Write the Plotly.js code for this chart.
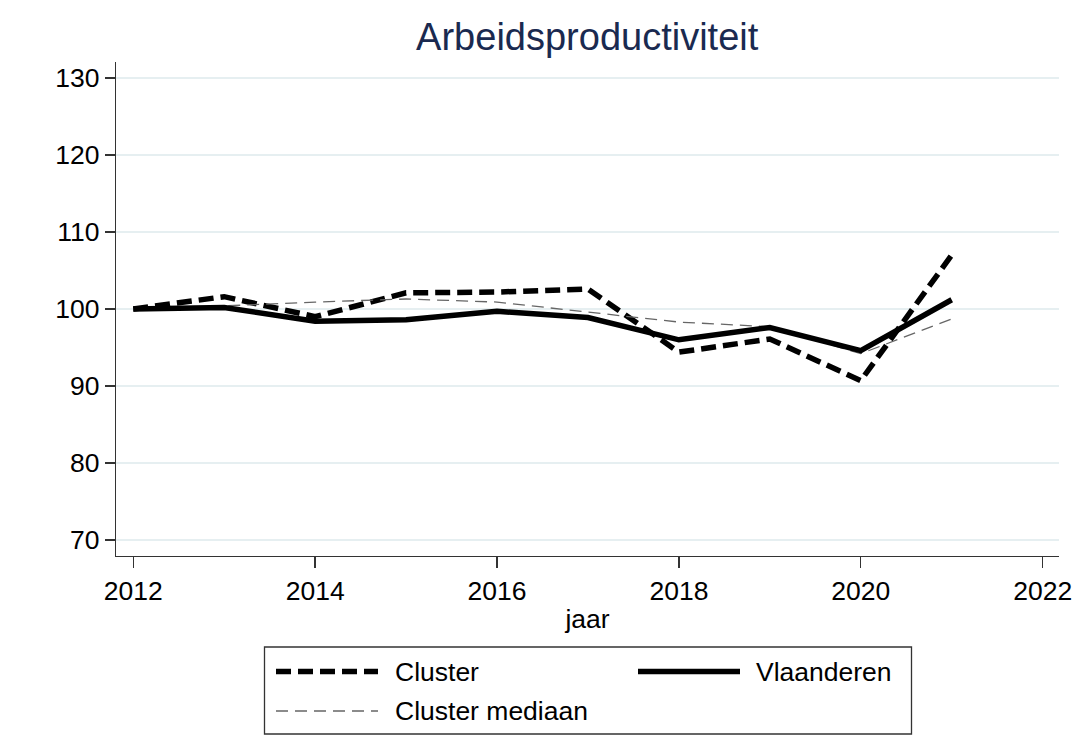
<!DOCTYPE html>
<html>
<head>
<meta charset="utf-8">
<script src="https://cdn.plot.ly/plotly-3.0.1.min.js"></script>
<style>html,body{margin:0;padding:0;background:#fff;}#chart{width:1084px;height:736px;}</style>
</head>
<body>
<div id="chart"></div>
<script>
// ---- data ----
const years = [2012, 2013, 2014, 2015, 2016, 2017, 2018, 2019, 2020, 2021];
const cluster = [100, 101.6, 99.0, 102.1, 102.2, 102.6, 94.4, 96.1, 90.7, 107.0];
const vlaanderen = [100, 100.2, 98.4, 98.6, 99.7, 98.9, 96.0, 97.6, 94.6, 101.2];
const clusterMediaan = [100, 100.4, 100.9, 101.3, 100.9, 99.6, 98.3, 97.7, 94.2, 98.7];
const xTicks = [2012, 2014, 2016, 2018, 2020, 2022];
const yTicks = [70, 80, 90, 100, 110, 120, 130];
const seriesNames = ['Cluster', 'Vlaanderen', 'Cluster mediaan'];
const chartTitle = 'Arbeidsproductiviteit';
const xTitle = 'jaar';

// ---- layout geometry ----
const W = 1084, H = 736;
const M = {l: 116, r: 25, t: 62, b: 180};
const plotW = W - M.l - M.r, plotH = H - M.t - M.b;
const px = x => (x - M.l) / plotW;          // pixel -> paper x
const py = y => (H - M.b - y) / plotH;      // pixel -> paper y
const FONT = 'Liberation Sans, Arial, sans-serif';
const FS = 26.5;

const styles = {
  'Cluster': {color: '#000', width: 5.5, dash: '15px,7px'},
  'Vlaanderen': {color: '#000', width: 5.5, dash: 'solid'},
  'Cluster mediaan': {color: '#666', width: 1.3, dash: '12px,7px'}
};

const traces = [
  {x: years, y: cluster, name: seriesNames[0]},
  {x: years, y: clusterMediaan, name: seriesNames[2]},
  {x: years, y: vlaanderen, name: seriesNames[1]}
].map(t => Object.assign(t, {type: 'scatter', mode: 'lines', line: styles[t.name], hoverinfo: 'skip'}));

// custom legend (box, keys, labels)
const shapes = [
  {type: 'rect', xref: 'paper', yref: 'paper', x0: px(264.5), x1: px(911.5), y0: py(734), y1: py(647),
   line: {color: '#333', width: 1.3}, fillcolor: 'rgba(0,0,0,0)'}
];
const annotations = [];
const legendItems = [
  {name: seriesNames[0], kx0: 276, kx1: 378, ky: 671.5, tx: 393},
  {name: seriesNames[1], kx0: 638, kx1: 740, ky: 671.5, tx: 754},
  {name: seriesNames[2], kx0: 276, kx1: 378, ky: 711, tx: 393}
];
legendItems.forEach(it => {
  const s = styles[it.name];
  shapes.push({type: 'line', xref: 'paper', yref: 'paper', x0: px(it.kx0), x1: px(it.kx1), y0: py(it.ky), y1: py(it.ky),
    line: {color: s.color, width: s.width, dash: s.dash}});
  annotations.push({xref: 'paper', yref: 'paper', x: px(it.tx), y: py(it.ky), xanchor: 'left', yanchor: 'middle',
    text: it.name, showarrow: false, font: {family: FONT, size: FS, color: '#000'}});
});

const layout = {
  width: W, height: H,
  margin: M,
  paper_bgcolor: '#fff', plot_bgcolor: '#fff',
  showlegend: false,
  font: {family: FONT, size: FS, color: '#000'},
  title: {text: chartTitle, font: {family: FONT, size: 38, color: '#1a2a50'},
          x: 0.5417, xanchor: 'center', y: 1 - 37 / H, yanchor: 'middle', yref: 'container'},
  xaxis: {
    range: [2011.81, 2022.18], tickvals: xTicks, ticktext: xTicks.map(String),
    showgrid: false, zeroline: false, showline: true, linecolor: '#333', linewidth: 1.3,
    ticks: 'outside', ticklen: 11, tickcolor: '#333', tickwidth: 1.3,
    tickfont: {family: FONT, size: FS, color: '#000'},
    title: {text: xTitle, font: {family: FONT, size: FS, color: '#000'}, standoff: 4}
  },
  yaxis: {
    range: [67.92, 132.08], tickvals: yTicks, ticktext: yTicks.map(String),
    showgrid: true, gridcolor: '#e6eff1', gridwidth: 1.3, zeroline: false,
    showline: true, linecolor: '#333', linewidth: 1.3,
    ticks: 'outside', ticklen: 10, tickcolor: '#333', tickwidth: 1.3,
    tickfont: {family: FONT, size: FS, color: '#000'}
  },
  shapes: shapes,
  annotations: annotations
};

Plotly.newPlot('chart', traces, layout, {displayModeBar: false, staticPlot: true});
</script>
</body>
</html>
